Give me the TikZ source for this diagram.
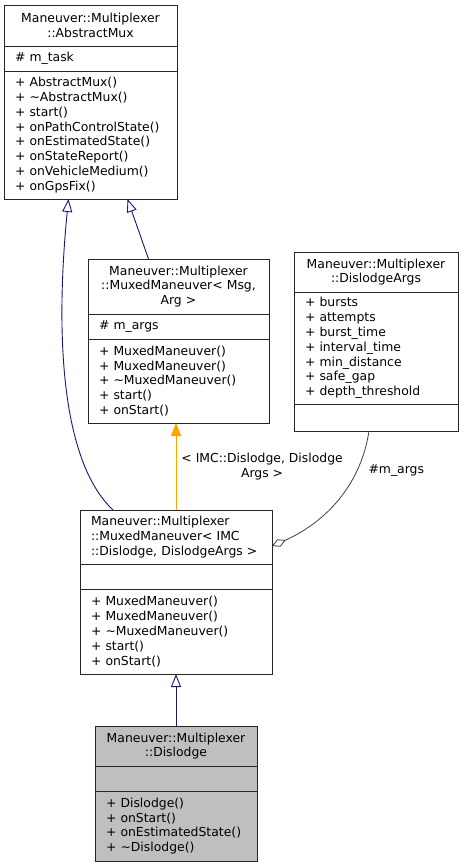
\documentclass[tikz,border=0pt]{standalone}
\usepackage{fontspec}
\setmainfont{DejaVu Sans}
\usepackage{tikz}
\usetikzlibrary{arrows.meta}
\usetikzlibrary{positioning}
\definecolor{edgeblue}{RGB}{25,25,112}
\definecolor{edgeorange}{RGB}{255,165,0}
\definecolor{edgegray}{RGB}{64,64,64}
\definecolor{boxgray}{RGB}{191,191,191}
\tikzset{
    common/.style={draw=black!85, line width=0.9pt, rectangle, outer sep=0pt, inner ysep=3pt, font=\fontsize{12.4}{14.8}\selectfont},
    classname/.style={common, align=center, inner xsep=0pt},
    members/.style={common, align=left, inner xsep=11pt},
    current/.style={fill=boxgray},
    inherit/.style={draw=edgeblue, line width=0.9pt, -{Triangle[open, length=13pt, width=10pt]}},
    templ/.style={draw=edgeorange, line width=0.9pt, -{Triangle[length=13pt, width=10pt, fill=edgeorange]}},
    usage/.style={draw=edgegray, line width=0.8pt, -{Diamond[open, length=15pt, width=8pt]}},
    edgelabel/.style={font=\fontsize{12.4}{14.8}\selectfont, align=center}
}
\begin{document}
\begin{tikzpicture}[x=1pt, y=-1pt]
    \useasboundingbox (0,0) rectangle (463,867);

    % Maneuver::Multiplexer::AbstractMux
    \node[classname, anchor=north west, text width=173pt, minimum height=41pt] (amuxT) at (4,5)
        {Maneuver::Multiplexer\\::AbstractMux};
    \node[members, below=0pt of amuxT, text width=151pt, minimum height=25pt] (amuxA) {\#~m\_task};
    \node[members, below=0pt of amuxA, text width=151pt, minimum height=128pt] (amuxO)
        {+~AbstractMux()\\+~\textasciitilde AbstractMux()\\+~start()\\+~onPathControlState()\\+~onEstimatedState()\\+~onStateReport()\\+~onVehicleMedium()\\+~onGpsFix()};

    % MuxedManeuver< Msg, Arg >
    \node[classname, anchor=north west, text width=181pt, minimum height=55pt] (muxbT) at (88,259)
        {Maneuver::Multiplexer\\::MuxedManeuver< Msg,\\Arg >};
    \node[members, below=0pt of muxbT, text width=159pt, minimum height=25pt] (muxbA) {\#~m\_args};
    \node[members, below=0pt of muxbA, text width=159pt, minimum height=84pt] (muxbO)
        {+~MuxedManeuver()\\+~MuxedManeuver()\\+~\textasciitilde MuxedManeuver()\\+~start()\\+~onStart()};

    % DislodgeArgs
    \node[classname, anchor=north west, text width=164pt, minimum height=40pt] (argsT) at (294,252)
        {Maneuver::Multiplexer\\::DislodgeArgs};
    \node[members, below=0pt of argsT, text width=142pt, minimum height=112pt] (argsA)
        {+~bursts\\+~attempts\\+~burst\_time\\+~interval\_time\\+~min\_distance\\+~safe\_gap\\+~depth\_threshold};
    \node[members, below=0pt of argsA, text width=142pt, minimum height=27pt] (argsO) {};

    % MuxedManeuver< IMC::Dislodge, DislodgeArgs >
    \node[members, anchor=north west, text width=170pt, minimum height=54pt] (muxT) at (80,510)
        {Maneuver::Multiplexer\\::MuxedManeuver< IMC\\::Dislodge, DislodgeArgs >};
    \node[members, below=0pt of muxT, text width=170pt, minimum height=25pt] (muxA) {};
    \node[members, below=0pt of muxA, text width=170pt, minimum height=85pt] (muxO)
        {+~MuxedManeuver()\\+~MuxedManeuver()\\+~\textasciitilde MuxedManeuver()\\+~start()\\+~onStart()};

    % Dislodge
    \node[classname, current, anchor=north west, text width=162pt, minimum height=40pt] (dislT) at (95,726)
        {Maneuver::Multiplexer\\::Dislodge};
    \node[members, current, below=0pt of dislT, text width=140pt, minimum height=25pt] (dislA) {};
    \node[members, current, below=0pt of dislA, text width=140pt, minimum height=70pt] (dislO)
        {+~Dislodge()\\+~onStart()\\+~onEstimatedState()\\+~\textasciitilde Dislodge()};

    \draw[inherit] ([xshift=-30pt]muxbT.north) -- ([xshift=37pt]amuxO.south);
    \draw[inherit] ([xshift=-63pt]muxT.north) .. controls +(-53,-50) and +(-13,131) .. ([xshift=-22pt]amuxO.south);
    \draw[templ] (muxT.north) -- (muxT.north |- muxbO.south)
        node[midway, right, edgelabel, inner sep=5pt] {< IMC::Dislodge, Dislodge\\Args >};
    \draw[usage] ([xshift=-7pt]argsO.south) .. controls +(-9,59) and +(48,-21) .. ([yshift=-9pt]muxT.east)
        node[pos=0.25, right, edgelabel, xshift=8pt] {\#m\_args};
    \draw[inherit] (dislT.north) -- (muxO.south);
\end{tikzpicture}
\end{document}
